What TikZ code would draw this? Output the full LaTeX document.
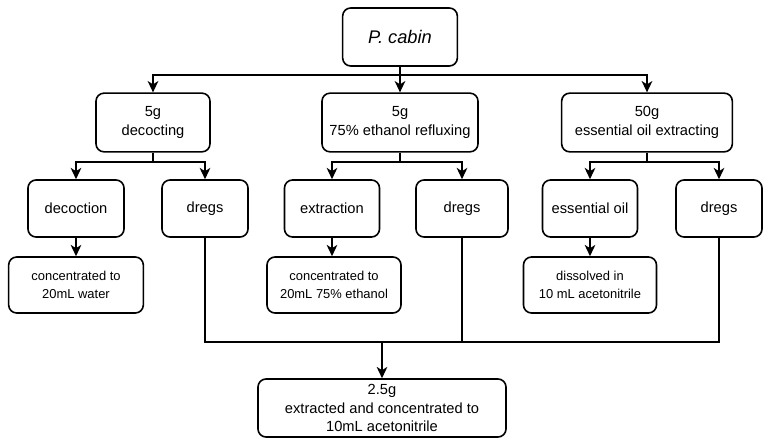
\documentclass[tikz,border=0pt]{standalone}
\usepackage{fontspec}
\setmainfont{Liberation Sans}
\usetikzlibrary{arrows.meta}

\begin{document}
\begin{tikzpicture}[
    x=0.75pt,
    y=-0.75pt,
    stage/.style={
        draw,
        line width=1.2pt,
        rounded corners=6pt,
        align=center,
        inner sep=0pt,
        minimum height=44pt,
        font=\fontsize{11}{14}\selectfont
    },
    product/.style={
        stage,
        minimum height=42.75pt
    },
    treated/.style={
        stage,
        minimum height=42pt,
        font=\fontsize{9.7}{13.5}\selectfont
    },
    flow/.style={
        draw,
        line width=1.1pt,
        -{Stealth[length=8.5pt,width=8pt,inset=2.5pt]}
    },
    joint/.style={
        draw,
        line width=1.1pt
    },
    ]
    \useasboundingbox (0,0) rectangle (770,445);

    \node[stage, minimum width=86pt, minimum height=43.5pt,
          font=\fontsize{13.7}{16}\selectfont\itshape] (cabin) at (400,37) {P. cabin};

    \node[stage, minimum width=85.5pt] (decocting) at (153,122.5) {5g\\decocting};
    \node[stage, minimum width=117pt] (refluxing) at (400,122.5) {5g\\75\% ethanol refluxing};
    \node[stage, minimum width=128pt] (oilextract) at (647,122.5) {50g\\essential oil extracting};

    \node[product, minimum width=72pt] (decoction) at (76,208.5) {decoction};
    \node[product, minimum width=64.5pt] (dregsa) at (205,208.5) {dregs};
    \node[product, minimum width=71.25pt] (extraction) at (332,208.5) {extraction};
    \node[product, minimum width=69pt] (dregsb) at (462,208.5) {dregs};
    \node[product, minimum width=71.25pt] (oil) at (590,208.5) {essential oil};
    \node[product, minimum width=64.5pt] (dregsc) at (719,208.5) {dregs};

    \node[treated, minimum width=101pt] (water) at (76,285) {concentrated to\\20mL water};
    \node[treated, minimum width=100.5pt] (ethanol) at (334,285) {concentrated to\\20mL 75\% ethanol};
    \node[treated, minimum width=99.75pt] (nitrile) at (590,285) {dissolved in\\10 mL acetonitrile};

    \node[stage, minimum width=186pt, minimum height=43.5pt] (pooled) at (382,408)
        {2.5g\\extracted and concentrated to\\10mL acetonitrile};

    \coordinate (split) at (0,75);
    \coordinate (splita) at (0,162);
    \coordinate (merge) at (0,342);

    \draw[flow] (cabin.south) -- (cabin.south |- split) -| (decocting.north);
    \draw[flow] (cabin.south) -- (cabin.south |- split) -| (oilextract.north);
    \draw[flow] (cabin.south) -- (refluxing.north);

    \draw[flow] (decocting.south) -- (decocting.south |- splita) -| (decoction.north);
    \draw[flow] (decocting.south) -- (decocting.south |- splita) -| (dregsa.north);
    \draw[flow] (refluxing.south) -- (refluxing.south |- splita) -| (extraction.north);
    \draw[flow] (refluxing.south) -- (refluxing.south |- splita) -| (dregsb.north);
    \draw[flow] (oilextract.south) -- (oilextract.south |- splita) -| (oil.north);
    \draw[flow] (oilextract.south) -- (oilextract.south |- splita) -| (dregsc.north);

    \draw[flow] (decoction) -- (decoction |- water.north);
    \draw[flow] (extraction) -- (extraction |- ethanol.north);
    \draw[flow] (oil) -- (oil |- nitrile.north);

    \draw[joint] (dregsa.south) |- (dregsc.south |- merge) -- (dregsc.south);
    \draw[joint] (dregsb.south) -- (dregsb.south |- merge);
    \draw[flow] (pooled.north |- merge) -- (pooled.north);
\end{tikzpicture}
\end{document}
